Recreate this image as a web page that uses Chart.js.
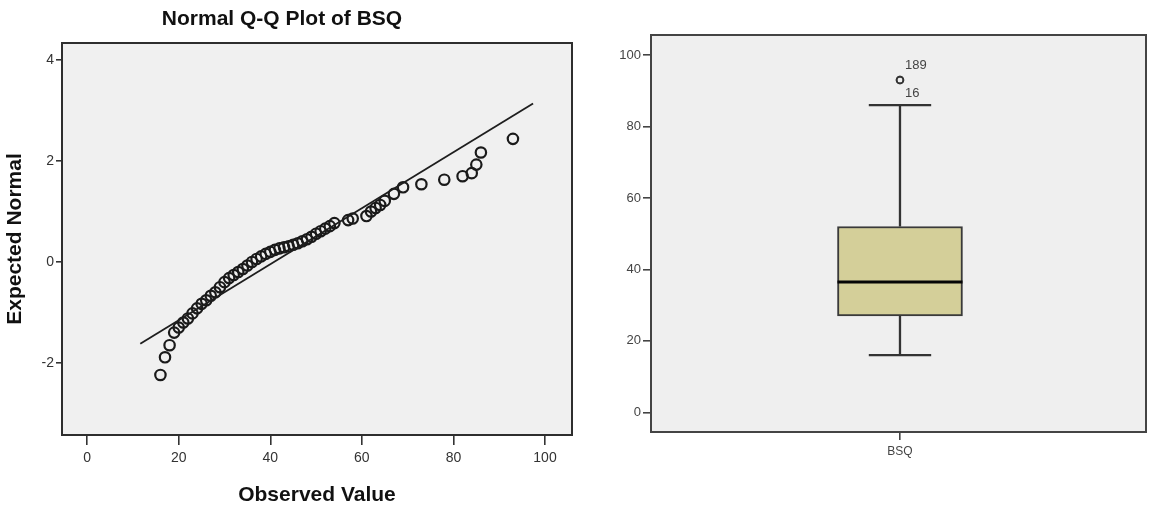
<!DOCTYPE html>
<html>
<head>
<meta charset="utf-8">
<script src="https://cdn.jsdelivr.net/npm/chart.js@4.4.1/dist/chart.umd.min.js"></script>
<style>
  html, body { margin: 0; padding: 0; background: #ffffff; }
  #wrap { position: relative; width: 1152px; height: 517px; overflow: hidden; }
  #qq  { position: absolute; left: 0; top: 0; }
  #box { position: absolute; left: 600px; top: 0; filter: blur(0.4px); }
</style>
</head>
<body>
<div id="wrap">
  <canvas id="qq" width="600" height="517"></canvas>
  <canvas id="box" width="552" height="517"></canvas>
</div>
<script>
// ---- Normal Q-Q plot: observed BSQ scores vs. expected normal quantiles ----
const qqObserved = [16, 17, 18, 19, 20, 21, 22, 23, 24, 25, 26, 27, 28, 29, 30, 31, 32, 33, 34, 35,
                    36, 37, 38, 39, 40, 41, 42, 43, 44, 45, 46, 47, 48, 49, 50, 51, 52, 53, 54,
                    57, 58, 61, 62, 63, 64, 65, 67, 69, 73, 78, 82, 84, 85, 86, 93];
const qqExpected = [-2.24, -1.89, -1.65, -1.40, -1.30, -1.20, -1.12, -1.02, -0.92, -0.83,
                    -0.76, -0.67, -0.60, -0.50, -0.40, -0.32, -0.26, -0.20, -0.14, -0.07,
                     0.00, 0.06, 0.11, 0.16, 0.20, 0.24, 0.27, 0.29, 0.31, 0.34,
                     0.37, 0.41, 0.45, 0.50, 0.56, 0.61, 0.66, 0.71, 0.77,
                     0.83, 0.86, 0.91, 1.00, 1.07, 1.13, 1.21, 1.35, 1.48, 1.54,
                     1.63, 1.70, 1.76, 1.93, 2.17, 2.44];
// reference line of the fitted normal distribution
const fitLineObserved = [11.6, 97.4];
const fitLineExpected = [-1.62, 3.14];
const qqXTicks = [0, 20, 40, 60, 80, 100];
const qqYTicks = [-2, 0, 2, 4];

// ---- Box plot of BSQ ----
const boxCategory = ['BSQ'];
const boxLowerWhisker = [16];
const boxQ1 = [27];
const boxMedian = [36.5];
const boxQ3 = [52];
const boxUpperWhisker = [86];
const outlierValues = [93, 93];
const outlierCases = ['189', '16'];
const boxYTicks = [0, 20, 40, 60, 80, 100];

const FONT = "'Liberation Sans', Arial, Helvetica, sans-serif";
Chart.defaults.font.family = FONT;
Chart.defaults.animation = false;

// grey plotting area with a dark frame around it
const plotFrame = {
  id: 'plotFrame',
  beforeDraw(chart, args, opts) {
    const { ctx, chartArea: a } = chart;
    ctx.save();
    ctx.fillStyle = opts.fill;
    ctx.fillRect(a.left, a.top, a.right - a.left, a.bottom - a.top);
    ctx.restore();
  },
  afterDraw(chart, args, opts) {
    const { ctx, chartArea: a } = chart;
    ctx.save();
    ctx.strokeStyle = opts.stroke;
    ctx.lineWidth = opts.width;
    ctx.strokeRect(a.left, a.top, a.right - a.left, a.bottom - a.top);
    ctx.restore();
  }
};

// chart heading placed over the panel
const panelTitle = {
  id: 'panelTitle',
  afterDraw(chart, args, opts) {
    if (!opts.text) return;
    const ctx = chart.ctx;
    ctx.save();
    ctx.font = opts.font;
    ctx.fillStyle = opts.color;
    ctx.textAlign = 'center';
    ctx.textBaseline = 'middle';
    ctx.fillText(opts.text, opts.x, opts.y);
    ctx.restore();
  }
};

// case-number labels beside the outlier circles
const outlierLabels = {
  id: 'outlierLabels',
  afterDatasetsDraw(chart, args, opts) {
    const ds = chart.data.datasets.findIndex(d => d.label === 'outliers');
    if (ds < 0) return;
    const meta = chart.getDatasetMeta(ds);
    const ctx = chart.ctx;
    ctx.save();
    ctx.font = opts.font;
    ctx.fillStyle = opts.color;
    ctx.textAlign = 'left';
    ctx.textBaseline = 'middle';
    meta.data.forEach((pt, i) => {
      const dy = i === 0 ? -15 : 13;
      ctx.fillText(outlierCases[i], pt.x + 5, pt.y + dy);
    });
    ctx.restore();
  }
};

// ---------------- Q-Q chart ----------------
new Chart(document.getElementById('qq'), {
  type: 'scatter',
  data: {
    datasets: [
      {
        label: 'fit',
        data: fitLineObserved.map((x, i) => ({ x, y: fitLineExpected[i] })),
        showLine: true,
        borderColor: '#1e1e1e',
        borderWidth: 1.8,
        pointRadius: 0,
        fill: false
      },
      {
        label: 'BSQ',
        data: qqObserved.map((x, i) => ({ x, y: qqExpected[i] })),
        pointRadius: 5.2,
        pointBorderWidth: 2.2,
        pointBorderColor: '#1a1a1a',
        pointBackgroundColor: 'rgba(0,0,0,0)',
        showLine: false
      }
    ]
  },
  options: {
    responsive: false,
    layout: { padding: { top: 43, right: 28, left: 0, bottom: 0 } },
    plugins: {
      legend: { display: false },
      tooltip: { enabled: false },
      plotFrame: { fill: '#f0f0f0', stroke: '#2e2e2e', width: 2 },
      panelTitle: { text: 'Normal Q-Q Plot of BSQ', font: 'bold 21px ' + FONT, color: '#111', x: 282, y: 19 }
    },
    scales: {
      x: {
        type: 'linear',
        min: -5.5, max: 105.9,
        afterBuildTicks: s => { s.ticks = qqXTicks.map(v => ({ value: v })); },
        afterFit: s => { s.height = 82; },
        border: { display: false },
        grid: { drawOnChartArea: false, drawTicks: true, tickLength: 10, color: '#333', lineWidth: 1.6 },
        ticks: { padding: 5, color: '#333', font: { size: 14 }, maxRotation: 0, autoSkip: false },
        title: { display: true, text: 'Observed Value', color: '#111', font: { size: 21, weight: 'bold' }, padding: { top: 0, bottom: 9 } }
      },
      y: {
        type: 'linear',
        min: -3.43, max: 4.34,
        afterBuildTicks: s => { s.ticks = qqYTicks.map(v => ({ value: v })); },
        afterFit: s => { s.width = 62; },
        border: { display: false },
        grid: { drawOnChartArea: false, drawTicks: true, tickLength: 6, color: '#333', lineWidth: 1.6 },
        ticks: { padding: 2, color: '#333', font: { size: 14 }, autoSkip: false },
        title: { display: true, text: 'Expected Normal', color: '#111', font: { size: 21, weight: 'bold' }, padding: { top: 3, bottom: 0 } }
      }
    }
  },
  plugins: [plotFrame, panelTitle]
});

// ---------------- Box plot ----------------
const BOX_HALF = 0.2525;  // half box width in x units
const CAP_HALF = 0.126;   // half whisker-cap width in x units
const seg = (x1, y1, x2, y2) => [{ x: x1, y: y1 }, { x: x2, y: y2 }];
const lineSet = (label, data, width, color, order) => ({
  type: 'scatter', label, data, showLine: true, pointRadius: 0,
  borderColor: color, borderWidth: width, fill: false, order
});

new Chart(document.getElementById('box'), {
  type: 'bar',
  data: {
    datasets: [
      lineSet('median', seg(-BOX_HALF, boxMedian[0], BOX_HALF, boxMedian[0]), 3, '#050505', 0),
      lineSet('upper whisker', seg(0, boxQ3[0], 0, boxUpperWhisker[0]), 2.3, '#333', 1),
      lineSet('lower whisker', seg(0, boxLowerWhisker[0], 0, boxQ1[0]), 2.3, '#333', 1),
      lineSet('upper cap', seg(-CAP_HALF, boxUpperWhisker[0], CAP_HALF, boxUpperWhisker[0]), 2.3, '#333', 1),
      lineSet('lower cap', seg(-CAP_HALF, boxLowerWhisker[0], CAP_HALF, boxLowerWhisker[0]), 2.3, '#333', 1),
      {
        type: 'scatter',
        label: 'outliers',
        data: outlierValues.map(v => ({ x: 0, y: v })),
        pointRadius: 3.4,
        pointBorderWidth: 1.7,
        pointBorderColor: '#333',
        pointBackgroundColor: 'rgba(0,0,0,0)',
        order: 0
      },
      {
        type: 'bar',
        label: boxCategory[0],
        data: [{ x: 0, y: [boxQ1[0], boxQ3[0]] }],
        backgroundColor: '#d4cf99',
        borderColor: '#3a3a3a',
        borderWidth: 2,
        borderSkipped: false,
        barThickness: 125,
        order: 3
      }
    ]
  },
  options: {
    responsive: false,
    layout: { padding: { top: 35, right: 6, left: 0, bottom: 0 } },
    plugins: {
      legend: { display: false },
      tooltip: { enabled: false },
      plotFrame: { fill: '#efefef', stroke: '#444', width: 2 },
      outlierLabels: { font: '13px ' + FONT, color: '#444' }
    },
    scales: {
      x: {
        type: 'linear',
        min: -1.006, max: 0.994,
        offset: false,
        afterBuildTicks: s => { s.ticks = [{ value: 0 }]; },
        afterFit: s => { s.height = 85; },
        border: { display: false },
        grid: { offset: false, drawOnChartArea: false, drawTicks: true, tickLength: 8, color: '#444', lineWidth: 1.6 },
        ticks: { padding: 4, color: '#444', font: { size: 12 }, maxRotation: 0, autoSkip: false, callback: () => boxCategory[0] }
      },
      y: {
        type: 'linear',
        min: -5.5, max: 105.6,
        afterBuildTicks: s => { s.ticks = boxYTicks.map(v => ({ value: v })); },
        afterFit: s => { s.width = 51; },
        border: { display: false },
        grid: { drawOnChartArea: false, drawTicks: true, tickLength: 8, color: '#444', lineWidth: 1.6 },
        ticks: { padding: 2, color: '#444', font: { size: 13 }, autoSkip: false }
      }
    }
  },
  plugins: [plotFrame, outlierLabels]
});
</script>
</body>
</html>
